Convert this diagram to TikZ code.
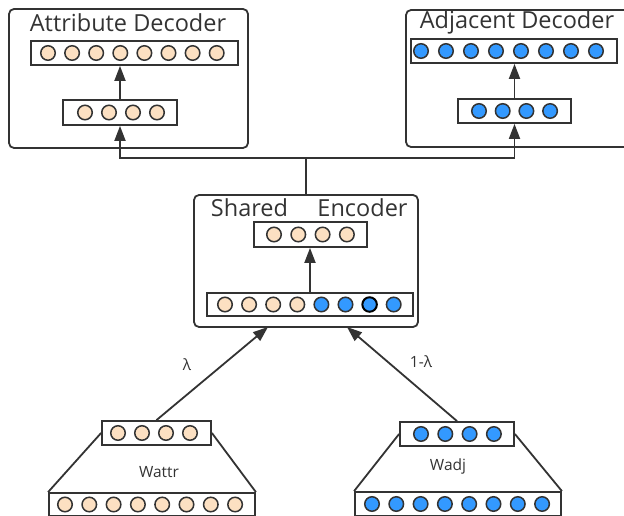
\documentclass[tikz,border=0pt]{standalone}
\usepackage{fontspec}
\setmainfont{Open Sans}
\usetikzlibrary{arrows.meta}
\definecolor{peach}{RGB}{252,224,194}
\definecolor{nblue}{RGB}{51,153,255}
\definecolor{edgec}{RGB}{51,51,51}
\begin{document}
\begin{tikzpicture}[x=1pt,y=-1pt,line width=1.8pt,color=edgec,
  rowbox/.style={draw,rectangle,inner sep=0pt,fill=white},
  unit/.style={draw,circle,minimum size=14.5pt,inner sep=0pt,line width=1.5pt},
  pe/.style={unit,fill=peach},
  bl/.style={unit,fill=nblue},
  arr/.style={-{Triangle[length=15pt,width=11pt]}},
  panel/.style={draw,rectangle,rounded corners=5pt,inner sep=0pt},
  title/.style={font=\fontsize{23.5}{26}\selectfont,inner sep=0pt},
  lbl/.style={font=\fontsize{15.5}{18}\selectfont,inner sep=0pt}]
\useasboundingbox (0,0) rectangle (624,516);

% panels
\node[panel,minimum width=239pt,minimum height=139pt] (adbox) at (128.5,78.5) {};
\node[panel,minimum width=234pt,minimum height=137pt] (jdbox) at (523,78.5) {};
\node[panel,minimum width=224pt,minimum height=132pt] (sebox) at (306,261) {};

% titles
\node[title] (adtitle) at (128,23) {Attribute Decoder};
\node[title] (jdtitle) at (517,22) {Adjacent Decoder};
\node[title] (setitle1) at (249.5,208) {Shared};
\node[title] (setitle2) at (362.5,208) {Encoder};

% attribute decoder rows
\node[rowbox,minimum width=207pt,minimum height=24pt] (ad8) at (134.5,53) {};
\foreach \i in {0,...,7} \node[pe] (ad8c\i) at ({48+24.1*\i},53) {};
\node[rowbox,minimum width=114pt,minimum height=25pt] (ad4) at (120,112.5) {};
\foreach \i in {0,...,3} \node[pe] (ad4c\i) at ({85+24*\i},112.5) {};

% adjacent decoder rows
\node[rowbox,minimum width=206pt,minimum height=24pt] (jd8) at (514,51) {};
\foreach \i in {0,...,7} \node[bl] (jd8c\i) at ({421+25*\i},51) {};
\node[rowbox,minimum width=113pt,minimum height=24pt] (jd4) at (514.5,111) {};
\foreach \i in {0,...,3} \node[bl] (jd4c\i) at ({479+23.7*\i},111) {};

% shared encoder rows
\node[rowbox,minimum width=113pt,minimum height=25pt] (se4) at (310.5,234.5) {};
\foreach \i in {0,...,3} \node[pe] (se4c\i) at ({274+24.3*\i},234.5) {};
\node[rowbox,minimum width=206pt,minimum height=23pt] (se8) at (310,304.5) {};
\foreach \i in {0,...,3} \node[pe] (se8c\i) at ({225+24.1*\i},304.5) {};
\foreach \i in {4,5,7} \node[bl] (se8c\i) at ({225+24.1*\i},304.5) {};
\node[bl,draw=black,line width=2pt] (se8c6) at ({225+24.1*6},304.5) {};

% bottom left input
\node[rowbox,minimum width=109pt,minimum height=24pt] (a4) at (156.5,433) {};
\foreach \i in {0,...,3} \node[pe] (a4c\i) at ({118+24*\i},433) {};
\node[rowbox,minimum width=206pt,minimum height=23pt] (a8) at (152,504.5) {};
\foreach \i in {0,...,7} \node[pe] (a8c\i) at ({65+24.3*\i},504.5) {};

% bottom right input
\node[rowbox,minimum width=114pt,minimum height=24pt] (j4) at (457,434) {};
\foreach \i in {0,...,3} \node[bl] (j4c\i) at ({421+24.3*\i},434) {};
\node[rowbox,minimum width=206pt,minimum height=24pt] (j8) at (458,504) {};
\foreach \i in {0,...,7} \node[bl] (j8c\i) at ({372+24.3*\i},504) {};

% internal arrows
\draw[arr] (ad4.north) -- (ad4.north |- ad8.south);
\draw[arr] (jd4.north) -- (jd4.north |- jd8.south);
\draw[arr] (se8.north) -- (se8.north |- se4.south);

% bus to decoders
\coordinate (bus) at (306,158);
\draw (sebox.north) -- (bus);
\draw[arr] (bus) -| (ad4.south);
\draw[arr] (bus) -| (jd4.south);

% inputs to encoder
\coordinate (inL) at (268,327);
\coordinate (inR) at (347,327);
\draw[arr] (a4.north) -- (inL);
\draw[arr] (j4.north) -- (inR);

% trapezoids
\draw (a4.west) -- (a8.north west);
\draw (a4.east) -- (a8.north east);
\draw (j4.west) -- (j8.north west);
\draw (j4.east) -- (j8.north east);

% labels
\node[lbl] (lam) at (187,365) {λ};
\node[lbl] (oml) at (421,362) {1-λ};
\node[lbl] (wattr) at (159,472) {Wattr};
\node[lbl] (wadj) at (448,466) {Wadj};
\end{tikzpicture}
\end{document}
